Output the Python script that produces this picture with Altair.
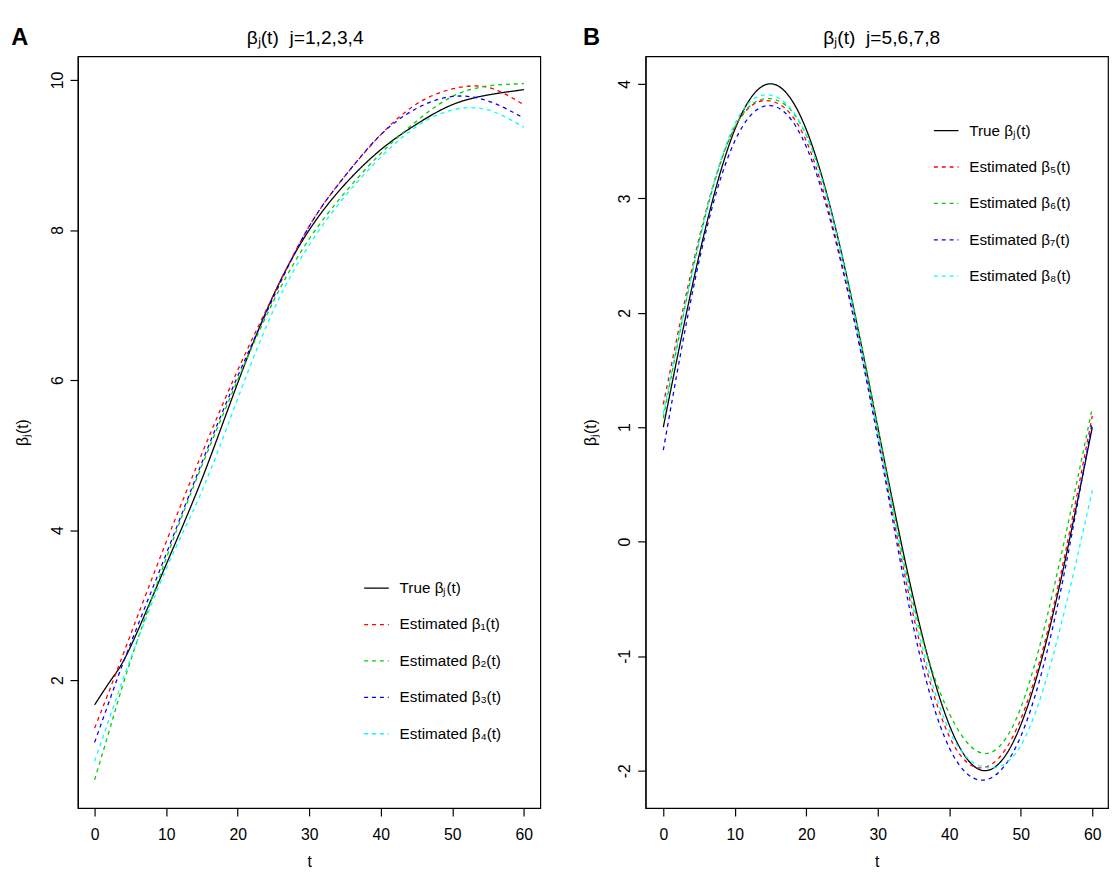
import altair as alt
import pandas as pd

FONT = "Liberation Sans"

# ---------------- Panel A data ----------------
t_a = [0, 2.5, 5, 10, 15, 20, 25, 30, 35, 40, 45, 50, 55, 60]
a_true = [1.67, 2.03, 2.44, 3.54, 4.68, 5.96, 7.13, 8.00, 8.61, 9.07, 9.41, 9.67, 9.80, 9.87]
a_est1 = [1.36, 1.97, 2.60, 3.84, 5.02, 6.13, 7.13, 8.05, 8.72, 9.27, 9.68, 9.88, 9.90, 9.67]
a_est2 = [0.67, 1.47, 2.25, 3.62, 4.86, 6.00, 7.05, 7.88, 8.50, 9.02, 9.45, 9.78, 9.92, 9.95]
a_est3 = [1.17, 1.84, 2.48, 3.68, 4.90, 6.05, 7.10, 8.05, 8.72, 9.27, 9.62, 9.78, 9.72, 9.49]
a_est4 = [0.92, 1.61, 2.28, 3.48, 4.52, 5.75, 6.93, 7.80, 8.45, 8.97, 9.38, 9.60, 9.60, 9.37]
a_names = ["True βⱼ(t)", "Estimated β₁(t)", "Estimated β₂(t)", "Estimated β₃(t)", "Estimated β₄(t)"]

# ---------------- Panel B data ----------------
t_b = [0, 5, 10, 15, 20, 25, 30, 35, 40, 45, 50, 55, 60]
b_true = [1.00, 2.50, 3.60, 4.00, 3.60, 2.50, 1.00, -0.50, -1.60, -2.00, -1.60, -0.50, 1.00]
b_est5 = [1.20, 2.65, 3.62, 3.85, 3.50, 2.42, 0.92, -0.65, -1.70, -1.97, -1.55, -0.45, 1.10]
b_est6 = [1.08, 2.62, 3.62, 3.87, 3.55, 2.50, 1.00, -0.55, -1.50, -1.85, -1.45, -0.30, 1.17]
b_est7 = [0.80, 2.45, 3.50, 3.81, 3.45, 2.40, 0.90, -0.75, -1.80, -2.08, -1.70, -0.60, 1.05]
b_est8 = [1.12, 2.62, 3.65, 3.90, 3.55, 2.48, 0.95, -0.60, -1.65, -1.97, -1.78, -0.88, 0.45]
b_names = ["True βⱼ(t)", "Estimated β₅(t)", "Estimated β₆(t)", "Estimated β₇(t)", "Estimated β₈(t)"]

x_ticks = [0, 10, 20, 30, 40, 50, 60]
a_yticks = [2, 4, 6, 8, 10]
b_yticks = [-2, -1, 0, 1, 2, 3, 4]

line_colors = ["#000000", "#FF0000", "#00CD00", "#0000FF", "#00FFFF"]
line_dashes = [[1, 0], [4, 4], [4, 4], [4, 4], [4, 4]]


def long_df(ts, names, series):
    rows = []
    for name, vals in zip(names, series):
        for ti, v in zip(ts, vals):
            rows.append({"t": ti, "v": v, "s": name})
    return pd.DataFrame(rows)


df_a = long_df(t_a, a_names, [a_true, a_est1, a_est2, a_est3, a_est4])
df_b = long_df(t_b, b_names, [b_true, b_est5, b_est6, b_est7, b_est8])

H = 764
W = 470


def panel(df, names, xdom, ydom, yticks, title, title_dx, letter, letter_dx, leg_x, leg_y):
    legend = alt.Legend(
        orient="none", legendX=leg_x, legendY=leg_y, title=None,
        symbolType="stroke", symbolSize=625, symbolStrokeWidth=1.3,
        labelFont=FONT, labelFontSize=15.5, labelColor="#000000",
        rowPadding=15, labelOffset=10, labelLimit=300, padding=0,
    )
    cscale = alt.Scale(domain=names, range=line_colors)
    dscale = alt.Scale(domain=names, range=line_dashes)
    x = alt.X("t:Q", scale=alt.Scale(domain=xdom, nice=False, zero=False),
              axis=alt.Axis(values=x_ticks, title="t", labelExpr="datum.value + ''",
                            labelFontSize=16, labelPadding=11, tickSize=8,
                            titleFontSize=16, titleY=54, titleBaseline="middle"))
    y = alt.Y("v:Q", scale=alt.Scale(domain=ydom, nice=False, zero=False),
              axis=alt.Axis(values=yticks, title="βⱼ(t)", labelExpr="datum.value + ''",
                            labelAngle=-90, labelAlign="center", labelBaseline="bottom",
                            labelFontSize=16, labelPadding=5, tickSize=8,
                            titleFontSize=16, titleAngle=-90, titleX=-56,
                            titleY=H / 2, titleAlign="center", titleBaseline="middle"))
    enc = dict(
        x=x, y=y,
        color=alt.Color("s:N", scale=cscale, legend=legend),
        strokeDash=alt.StrokeDash("s:N", scale=dscale, legend=legend),
    )
    base = alt.Chart(df)
    true_line = base.transform_filter(alt.datum.s == names[0]).mark_line(
        interpolate="natural", strokeWidth=1.3, clip=True).encode(**enc)
    est_line = base.transform_filter(alt.datum.s != names[0]).mark_line(
        interpolate="natural", strokeWidth=1.3, clip=True).encode(**enc)
    letter_txt = alt.Chart(pd.DataFrame({"lab": [letter]})).mark_text(
        font=FONT, fontSize=24, fontWeight="bold", color="#000000",
        align="center", baseline="alphabetic").encode(
        text="lab:N", x=alt.value(letter_dx), y=alt.value(-12))
    title_txt = alt.Chart(pd.DataFrame({"lab": [title]})).mark_text(
        font=FONT, fontSize=19.5, color="#000000",
        align="center", baseline="alphabetic").encode(
        text="lab:N", x=alt.value(title_dx), y=alt.value(-13))
    return alt.layer(true_line, est_line, letter_txt, title_txt).properties(width=W, height=H)


chart_a = panel(df_a, a_names, [-2.34, 62.3], [0.295, 10.315], a_yticks,
                "βⱼ(t)\u00a0\u00a0j=1,2,3,4", 231, "A", -59, 290, 527)
chart_b = panel(df_b, b_names, [-2.48, 62.2], [-2.326, 4.24], b_yticks,
                "βⱼ(t)\u00a0\u00a0j=5,6,7,8", 240, "B", -55, 292, 62)

chart = alt.hconcat(chart_a, chart_b, spacing=41).resolve_scale(
    color="independent", strokeDash="independent"
).properties(
    padding={"left": 2, "top": 10, "right": 0, "bottom": 0},
    background="#FFFFFF",
).configure_view(
    stroke="#000000", strokeWidth=1.2
).configure_axis(
    grid=False, domain=True, domainColor="#000000", domainWidth=1.2,
    tickColor="#000000", tickWidth=1.2, labelColor="#000000", titleColor="#000000",
    labelFont=FONT, titleFont=FONT, titleFontWeight="normal",
).configure_legend(
    labelFont=FONT
)

chart.save("out.html", embed_options={"renderer": "svg", "actions": False})
